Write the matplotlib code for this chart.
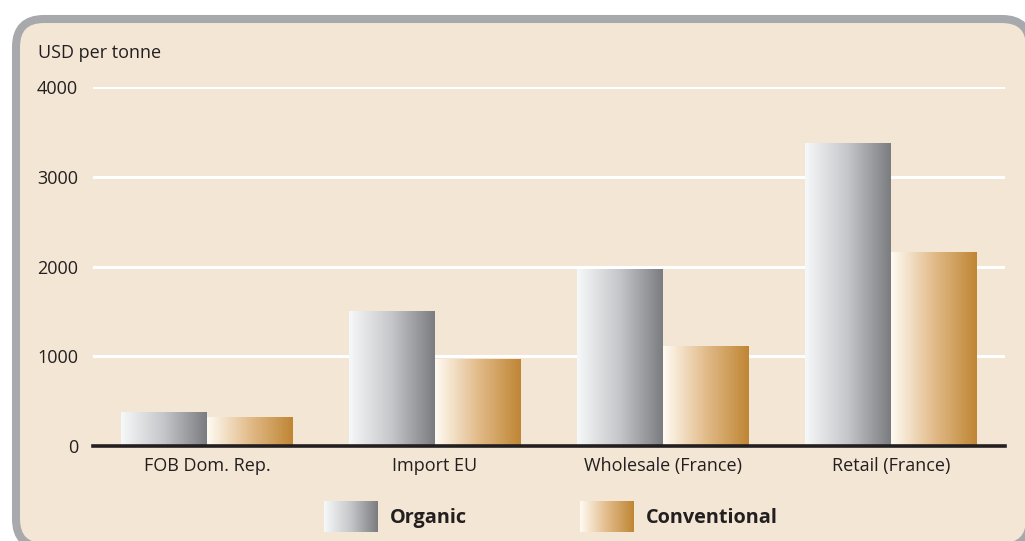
import numpy as np
import matplotlib
matplotlib.use("Agg")
from matplotlib import pyplot as plt
from matplotlib.patches import FancyBboxPatch
from matplotlib.colors import LinearSegmentedColormap
from matplotlib.transforms import IdentityTransform

categories = ["FOB Dom. Rep.", "Import EU", "Wholesale (France)", "Retail (France)"]
organic = [370, 1500, 1965, 3365]
conventional = [315, 960, 1105, 2155]
yticks = [0, 1000, 2000, 3000, 4000]
series_names = ["Organic", "Conventional"]

plt.rcParams['font.family'] = ['Open Sans', 'DejaVu Sans']

bg = "#f3e6d4"
grey_cmap = LinearSegmentedColormap.from_list("g", ["#f7f8f9", "#c4c6c9", "#7b7c80"])
gold_cmap = LinearSegmentedColormap.from_list("o", ["#fffbf3", "#e2bb8a", "#bf8634"])
grad = np.linspace(0, 1, 256).reshape(1, -1)

fig = plt.figure(figsize=(10.25, 5.41), dpi=100)
fig.patch.set_facecolor("white")

# rounded panel behind everything (pixel coords)
panel = FancyBboxPatch((16, -6), 1014, 528,
                       boxstyle="round,pad=0,rounding_size=28",
                       transform=IdentityTransform(), facecolor=bg,
                       edgecolor="#a7a9ac", linewidth=5.8, zorder=-5)
fig.add_artist(panel)

ax = fig.add_axes([93 / 1025, 1 - 446 / 541, 912 / 1025, (446 - 87) / 541])
ax.patch.set_alpha(0)

w = 0.377
x = np.arange(len(categories))
b1 = ax.bar(x - w / 2, organic, w, color="none", zorder=2)
b2 = ax.bar(x + w / 2, conventional, w, color="none", zorder=2)
for bars, cmap in ((b1, grey_cmap), (b2, gold_cmap)):
    for r in bars:
        x0, y0 = r.get_x(), r.get_y()
        ax.imshow(grad, cmap=cmap, aspect="auto", zorder=2,
                  extent=(x0, x0 + r.get_width(), y0, y0 + r.get_height()))
ax.set_xlim(-0.5, 3.5)
ax.set_ylim(0, 4000)

for t in yticks[1:]:
    ax.axhline(t, color="white", lw=2.2, zorder=1)
ax.axhline(0, color="#231f20", lw=2.6, zorder=3, clip_on=False)

for s in ax.spines.values():
    s.set_visible(False)
ax.set_yticks(yticks)
ax.set_yticklabels([str(t) for t in yticks], fontsize=13, color="#231f20")
ax.tick_params(axis="y", length=0, pad=10.8)
ax.set_xticks(x)
ax.set_xticklabels(categories, fontsize=13, color="#231f20")
ax.tick_params(axis="x", length=0, pad=8)

fig.text(38 / 1025, 1 - 53 / 541, "USD per tonne", fontsize=13, color="#231f20",
         va="center", ha="left")

# legend
for px, cmap, name in ((324, grey_cmap, series_names[0]), (580, gold_cmap, series_names[1])):
    lax = fig.add_axes([px / 1025, 1 - 532 / 541, 54 / 1025, 31 / 541])
    lax.imshow(grad, cmap=cmap, aspect="auto")
    lax.set_axis_off()
    fig.text((px + 66) / 1025, 1 - 518 / 541, name, fontsize=14.3, fontweight="bold",
             color="#231f20", va="center", ha="left")

fig.savefig("out.png", dpi=100, facecolor="white")
